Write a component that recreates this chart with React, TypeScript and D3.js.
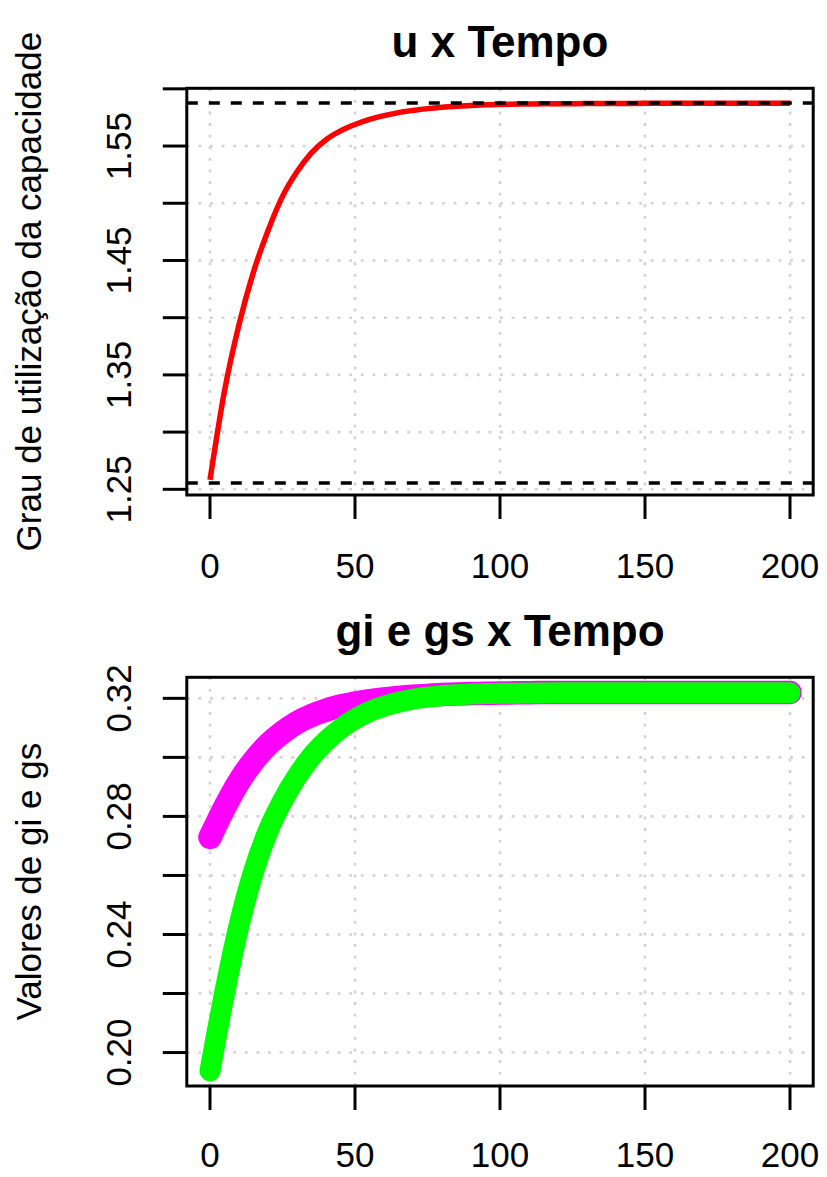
import React from "react";
import * as d3 from "d3";

// ---- data ----
const tempo = [0, 5, 10, 15, 20, 25, 30, 35, 40, 45, 50, 55, 60, 65, 70, 75, 80, 85, 90, 95, 100, 110, 120, 130, 140, 150, 175, 200];
const uValues = [1.2582, 1.3360, 1.3940, 1.4400, 1.4760, 1.5060, 1.5275, 1.5440, 1.5555, 1.5632, 1.5688, 1.5733, 1.5766, 1.5792, 1.5811, 1.5827, 1.5839, 1.5848, 1.5855, 1.5860, 1.5864, 1.5868, 1.5870, 1.5871, 1.5872, 1.5873, 1.5873, 1.5873];
const giValues = [0.2729, 0.2830, 0.2918, 0.2988, 0.3043, 0.3085, 0.3118, 0.3142, 0.3160, 0.3174, 0.3184, 0.3192, 0.3198, 0.3203, 0.3207, 0.3210, 0.3213, 0.3215, 0.3216, 0.3217, 0.3218, 0.3219, 0.3220, 0.3220, 0.3220, 0.3220, 0.3220, 0.3220];
const gsValues = [0.1938, 0.2200, 0.2430, 0.2612, 0.2750, 0.2852, 0.2935, 0.3003, 0.3055, 0.3097, 0.3130, 0.3155, 0.3173, 0.3187, 0.3197, 0.3204, 0.3209, 0.3212, 0.3215, 0.3216, 0.3217, 0.3218, 0.3219, 0.3219, 0.3219, 0.3219, 0.3219, 0.3219];
const uRefLines = [1.2555, 1.5876];

const xTicks = [0, 50, 100, 150, 200];
const uTicks = [1.25, 1.30, 1.35, 1.40, 1.45, 1.50, 1.55, 1.60];
const uTickLabels = ["1.25", "1.35", "1.45", "1.55"];
const gTicks = [0.20, 0.22, 0.24, 0.26, 0.28, 0.30, 0.32];
const gTickLabels = ["0.20", "0.24", "0.28", "0.32"];

const titles = ["u x Tempo", "gi e gs x Tempo"];
const yTitles = ["Grau de utilização da capacidade", "Valores de gi e gs"];

const FONT = "'Liberation Sans', Arial, Helvetica, sans-serif";
const W = 827;
const H = 1177;
const LEFT = 186.8;
const RIGHT = 813.2;

function expanded(vals: number[]): [number, number] {
  const mn = d3.min(vals) as number;
  const mx = d3.max(vals) as number;
  const p = (mx - mn) * 0.04;
  return [mn - p, mx + p];
}

type PanelProps = {
  top: number;
  bottom: number;
  offset: number;
  yDomain: [number, number];
  yTicks: number[];
  yLabels: string[];
  title: string;
  yTitle: string;
  children: (x: d3.ScaleLinear<number, number>, y: d3.ScaleLinear<number, number>) => React.ReactNode;
};

function Panel({ top, bottom, offset, yDomain, yTicks, yLabels, title, yTitle, children }: PanelProps) {
  const xDom = expanded(tempo);
  const x = d3.scaleLinear().domain(xDom).range([LEFT, RIGHT]);
  const y = d3.scaleLinear().domain(yDomain).range([bottom, top]);
  const cy = (top + bottom) / 2;
  const clipId = "clip" + offset;
  return (
    <g>
      <defs>
        <clipPath id={clipId}>
          <rect x={LEFT} y={top} width={RIGHT - LEFT} height={bottom - top} />
        </clipPath>
      </defs>
      {/* grid */}
      <g stroke="#D3D3D3" strokeWidth={2.6} strokeDasharray="2.9 8.7">
        {xTicks.map((t) => (
          <line key={"gx" + t} x1={x(t)} x2={x(t)} y1={top} y2={bottom} />
        ))}
        {yTicks.map((t) => (
          <line key={"gy" + t} x1={LEFT} x2={RIGHT} y1={y(t)} y2={y(t)} />
        ))}
      </g>
      <g clipPath={`url(#${clipId})`}>{children(x, y)}</g>
      {/* box */}
      <rect x={LEFT} y={top} width={RIGHT - LEFT} height={bottom - top} fill="none" stroke="#000" strokeWidth={3} />
      {/* axes */}
      <g stroke="#000" strokeWidth={3}>
        {xTicks.map((t) => (
          <line key={"tx" + t} x1={x(t)} x2={x(t)} y1={bottom} y2={bottom + 24} />
        ))}
        {yTicks.map((t) => (
          <line key={"ty" + t} x1={LEFT} x2={LEFT - 24} y1={y(t)} y2={y(t)} />
        ))}
      </g>
      {xTicks.map((t) => (
        <text key={"lx" + t} x={x(t)} y={578 + offset} textAnchor="middle" fontFamily={FONT} fontSize={35} fill="#000">
          {d3.format("d")(t)}
        </text>
      ))}
      {yLabels.map((s) => (
        <text
          key={"ly" + s}
          transform={`translate(131,${y(+s)}) rotate(-90)`}
          textAnchor="middle"
          fontFamily={FONT}
          fontSize={35}
          fill="#000"
        >
          {s}
        </text>
      ))}
      <text x={(LEFT + RIGHT) / 2} y={56.7 + offset} textAnchor="middle" fontFamily={FONT} fontSize={44} fontWeight="bold" fill="#000">
        {title}
      </text>
      <text transform={`translate(41,${cy}) rotate(-90)`} textAnchor="middle" fontFamily={FONT} fontSize={35} fill="#000">
        {yTitle}
      </text>
    </g>
  );
}

export default function App() {
  const uDomain = expanded(uValues);
  const gDomain = expanded([...giValues, ...gsValues]);
  return (
    <svg width={W} height={H} style={{ position: "absolute", left: 0, top: 0, background: "#fff" }}>
      <rect x={0} y={0} width={W} height={H} fill="#fff" />
      <Panel
        top={88.3}
        bottom={495}
        offset={0}
        yDomain={uDomain}
        yTicks={uTicks}
        yLabels={uTickLabels}
        title={titles[0]}
        yTitle={yTitles[0]}
      >
        {(x, y) => {
          const line = d3
            .line<number>()
            .x((_, i) => x(tempo[i]))
            .y((d) => y(d))
            .curve(d3.curveMonotoneX);
          return (
            <g>
              <path d={line(uValues) || ""} fill="none" stroke="#FF0000" strokeWidth={5.5} strokeLinejoin="round" />
              {uRefLines.map((v) => (
                <line key={v} x1={LEFT} x2={RIGHT} y1={y(v)} y2={y(v)} stroke="#000" strokeWidth={3.4} strokeDasharray="11 11" />
              ))}
            </g>
          );
        }}
      </Panel>
      <Panel
        top={677.3}
        bottom={1086}
        offset={589}
        yDomain={gDomain}
        yTicks={gTicks}
        yLabels={gTickLabels}
        title={titles[1]}
        yTitle={yTitles[1]}
      >
        {(x, y) => {
          const line = d3
            .line<number>()
            .x((_, i) => x(tempo[i]))
            .y((d) => y(d))
            .curve(d3.curveMonotoneX);
          return (
            <g>
              <path d={line(giValues) || ""} fill="none" stroke="#FF00FF" strokeWidth={23.5} strokeLinecap="round" strokeLinejoin="round" />
              <path d={line(gsValues) || ""} fill="none" stroke="#00FF00" strokeWidth={21} strokeLinecap="round" strokeLinejoin="round" />
            </g>
          );
        }}
      </Panel>
    </svg>
  );
}
